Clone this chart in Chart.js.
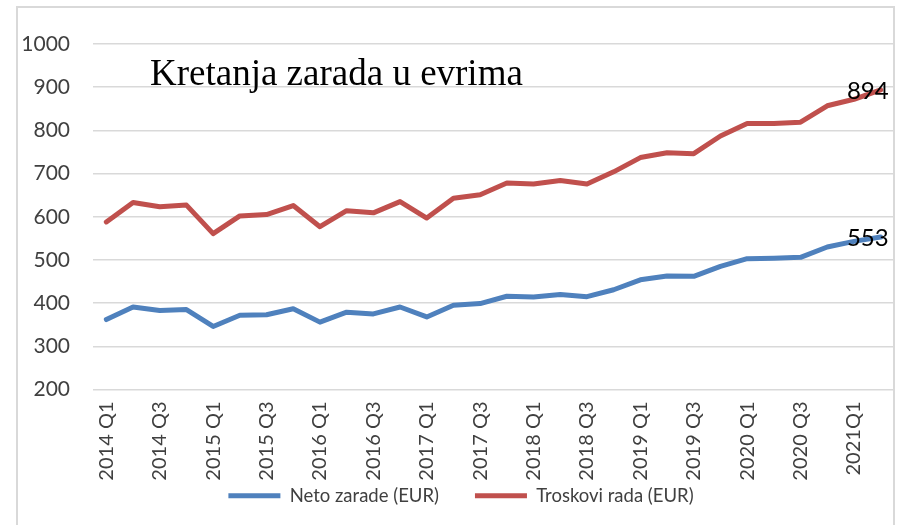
<!DOCTYPE html>
<html>
<head>
<meta charset="utf-8">
<script src="https://cdn.jsdelivr.net/npm/chart.js@4.4.0/dist/chart.umd.min.js"></script>
<style>
    html, body { margin: 0; padding: 0; background: #fff; }
    #frame {
        position: absolute; left: 16px; top: 6px; width: 879px; height: 560px;
        border: 2px solid #d9d9d9; box-sizing: border-box;
    }
    #wrap { position: absolute; left: 0; top: 0; width: 901px; height: 525px; overflow: hidden; }
</style>
</head>
<body>
<div id="wrap">
    <div id="frame"></div>
    <canvas id="chart" width="901" height="525" style="position:absolute;left:0;top:0;"></canvas>
</div>
<script>
const quarters = [
    '2014 Q1', '2014 Q2', '2014 Q3', '2014 Q4',
    '2015 Q1', '2015 Q2', '2015 Q3', '2015 Q4',
    '2016 Q1', '2016 Q2', '2016 Q3', '2016 Q4',
    '2017 Q1', '2017 Q2', '2017 Q3', '2017 Q4',
    '2018 Q1', '2018 Q2', '2018 Q3', '2018 Q4',
    '2019 Q1', '2019 Q2', '2019 Q3', '2019 Q4',
    '2020 Q1', '2020 Q2', '2020 Q3', '2020 Q4',
    '2021Q1', '2021Q2'
];

const netoZarade = [
    362, 391, 383, 385, 346, 372, 373, 387, 356, 379, 375, 391,
    368, 395, 399, 416, 414, 420, 415, 431, 454, 463, 462, 485,
    503, 504, 506, 530, 543, 553
];

const troskoviRada = [
    588, 633, 623, 627, 561, 602, 605, 626, 577, 614, 609, 635,
    597, 643, 651, 678, 676, 684, 676, 704, 737, 748, 746, 787,
    816, 816, 819, 857, 872, 894
];

const seriesNames = ['Neto zarade (EUR)', 'Troskovi rada (EUR)'];
const seriesColors = ['#4f81bd', '#c0504d'];
const chartTitle = 'Kretanja zarada u evrima';

// title sits inside the plot area, like the Excel original
const innerTitle = {
    id: 'innerTitle',
    afterDraw(chart) {
        const { ctx, chartArea } = chart;
        ctx.save();
        ctx.font = '37px "Liberation Serif", "Times New Roman", serif';
        ctx.fillStyle = '#000';
        ctx.textAlign = 'left';
        ctx.textBaseline = 'alphabetic';
        ctx.fillText(chartTitle, chartArea.left + 57, chartArea.top + 41);
        ctx.restore();
    }
};

// value label on the last point of each line
const lastLabels = {
    id: 'lastLabels',
    afterDatasetsDraw(chart) {
        const { ctx } = chart;
        ctx.save();
        ctx.font = '24px Lato, sans-serif';
        ctx.fillStyle = '#000';
        ctx.textAlign = 'right';
        ctx.textBaseline = 'middle';
        chart.data.datasets.forEach((ds, i) => {
            const pts = chart.getDatasetMeta(i).data;
            const p = pts[pts.length - 1];
            ctx.fillText(String(ds.data[ds.data.length - 1]), p.x + 8, p.y + 1);
        });
        ctx.restore();
    }
};

// tick labels are clipped to their scale box; widen those boxes after layout
const labelRoom = {
    id: 'labelRoom',
    afterLayout(chart) {
        chart.scales.x.bottom = chart.height;
        chart.scales.y.left = 0;
    }
};

const ctx = document.getElementById('chart').getContext('2d');
new Chart(ctx, {
    type: 'line',
    data: {
        labels: quarters,
        datasets: [netoZarade, troskoviRada].map((vals, i) => ({
            label: seriesNames[i],
            data: vals,
            borderColor: seriesColors[i],
            backgroundColor: seriesColors[i],
            borderWidth: 5,
            borderCapStyle: 'round',
            borderJoinStyle: 'round',
            pointRadius: 0,
            pointStyle: 'line',
            tension: 0,
            fill: false
        }))
    },
    options: {
        responsive: false,
        animation: false,
        layout: { padding: { left: 28, right: 7, top: 44, bottom: 10 } },
        scales: {
            x: {
                offset: true,
                afterFit(scale) {
                    scale.height = 61;
                    scale.paddingLeft = 0;
                    scale.paddingRight = 0;
                },
                grid: { display: false, drawTicks: false },
                border: { display: false },
                ticks: {
                    autoSkip: false,
                    maxRotation: 90,
                    minRotation: 90,
                    padding: 12,
                    color: '#404040',
                    font: { family: 'Lato', size: 20 },
                    callback: function(value, index) {
                        return index % 2 === 0 ? this.getLabelForValue(value) : '';
                    }
                }
            },
            y: {
                min: 200,
                max: 1000,
                afterFit(scale) { scale.width = 65; },
                grid: { color: '#d9d9d9', lineWidth: 1.5, drawTicks: false },
                border: { display: false },
                ticks: {
                    stepSize: 100,
                    padding: 23,
                    color: '#404040',
                    font: { family: 'Lato', size: 21 },
                    callback: (v) => String(v)
                }
            }
        },
        plugins: {
            legend: {
                position: 'bottom',
                labels: {
                    usePointStyle: true,
                    pointStyleWidth: 52,
                    padding: 36,
                    color: '#404040',
                    font: { family: 'Lato', size: 18.5 }
                }
            },
            tooltip: { enabled: false }
        }
    },
    plugins: [innerTitle, lastLabels, labelRoom]
});
</script>
</body>
</html>
